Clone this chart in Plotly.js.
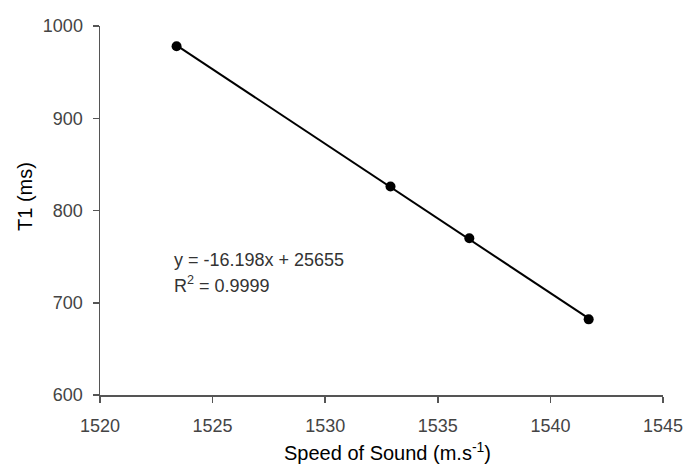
<!DOCTYPE html>
<html>
<head>
<meta charset="utf-8">
<script src="https://cdn.plot.ly/plotly-3.0.1.min.js"></script>
<style>html,body{margin:0;padding:0;background:#fff;}#chart{width:686px;height:466px;}</style>
</head>
<body>
<div id="chart"></div>
<script>
// Measured data points
const speedOfSound = [1523.4, 1532.9, 1536.4, 1541.7];
const t1Values = [978, 826, 770, 682];
// Linear trendline endpoints
const trendX = [1523.4, 1541.7];
const trendY = [979, 683];
const equationText = "y = -16.198x + 25655";
const r2Text = "R<sup>2</sup> = 0.9999";
const xTicks = [1520, 1525, 1530, 1535, 1540, 1545];
const yTicks = [600, 700, 800, 900, 1000];

const font = "'Liberation Sans', Arial, sans-serif";

const traces = [
  {x: trendX, y: trendY, mode: "lines", line: {color: "#000", width: 2}, hoverinfo: "skip", showlegend: false},
  {x: speedOfSound, y: t1Values, mode: "markers", marker: {color: "#000", size: 10}, showlegend: false}
];

const layout = {
  width: 686, height: 466,
  margin: {l: 100, r: 23, t: 26, b: 71},
  paper_bgcolor: "#fff", plot_bgcolor: "#fff",
  font: {family: font, size: 18, color: "#333"},
  showlegend: false,
  xaxis: {
    range: [1520, 1545], tickvals: xTicks, ticktext: xTicks.map(String),
    showgrid: false, zeroline: false, showline: true, linecolor: "#555", linewidth: 1.5,
    ticks: "outside", ticklen: 6, tickcolor: "#555", tickwidth: 1.5, ticklabelstandoff: 8,
    tickfont: {family: font, size: 18, color: "#444"}
  },
  yaxis: {
    range: [600, 1000], tickvals: yTicks, ticktext: yTicks.map(String),
    showgrid: false, zeroline: false, showline: true, linecolor: "#555", linewidth: 1.5,
    ticks: "outside", ticklen: 6, tickcolor: "#555", tickwidth: 1.5, ticklabelstandoff: 6,
    tickfont: {family: font, size: 18, color: "#444"}
  },
  annotations: [
    {xref: "paper", yref: "paper", x: 0.511, y: -0.154, yanchor: "middle", xanchor: "center", showarrow: false,
     text: "Speed of Sound (m.s<sup>-1</sup>)", font: {family: font, size: 20, color: "#000"}},
    {xref: "paper", yref: "paper", x: -0.133, y: 0.537, xanchor: "center", yanchor: "middle", showarrow: false,
     text: "T1 (ms)", textangle: -90, font: {family: font, size: 20, color: "#000"}},
    {xref: "paper", yref: "paper", x: 0.128, y: 0.366, xanchor: "left", yanchor: "middle", showarrow: false,
     text: equationText, font: {family: font, size: 18, color: "#333"}},
    {xref: "paper", yref: "paper", x: 0.128, y: 0.30, xanchor: "left", yanchor: "middle", showarrow: false,
     text: r2Text, font: {family: font, size: 18, color: "#333"}}
  ]
};

Plotly.newPlot("chart", traces, layout, {displayModeBar: false, staticPlot: true});
</script>
</body>
</html>
